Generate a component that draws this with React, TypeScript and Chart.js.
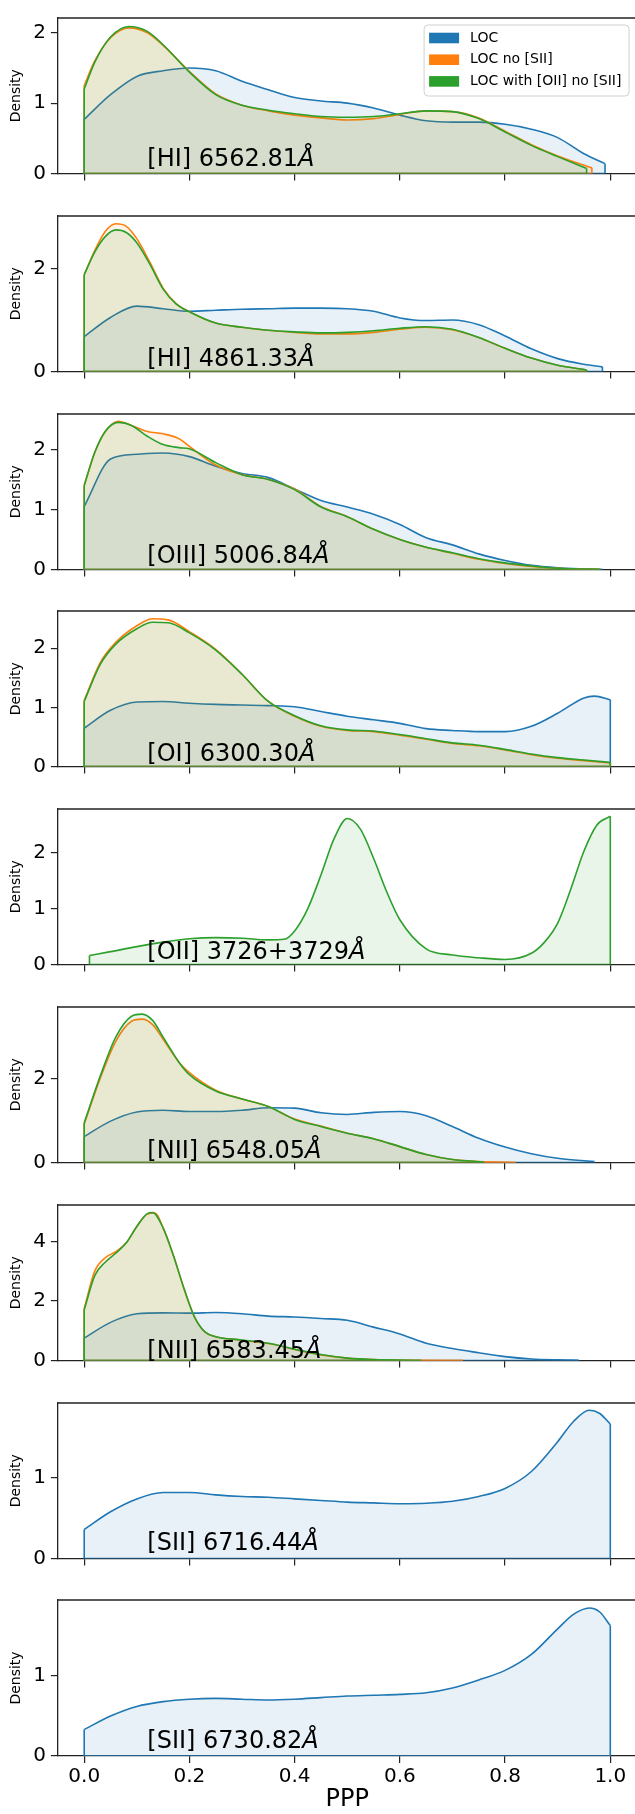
import React, { useEffect, useRef } from 'react';
import { Chart, registerables } from 'chart.js';

Chart.register(...registerables);

const FONT = "'DejaVu Sans', sans-serif";
Chart.defaults.font.family = FONT;

const SERIES_NAMES = ['LOC', 'LOC no [SII]', 'LOC with [OII] no [SII]'];
const SERIES_COLORS = ['#1f77b4', '#ff7f0e', '#2ca02c'];
const SERIES_FILLS = ['rgba(31,119,180,0.1)', 'rgba(255,127,14,0.1)', 'rgba(44,160,44,0.1)'];
const LINE_LABELS = [
  '[HI] 6562.81',
  '[HI] 4861.33',
  '[OIII] 5006.84',
  '[OI] 6300.30',
  '[OII] 3726+3729',
  '[NII] 6548.05',
  '[NII] 6583.45',
  '[SII] 6716.44',
  '[SII] 6730.82',
];
const ANGSTROM = 'Å';
const X_TITLE = 'PPP';
const Y_TITLE = 'Density';
const X_MIN = -0.05;
const X_MAX = 1.05;
const X_TICKS = [0, 0.2, 0.4, 0.6, 0.8, 1.0];
const Y_MAX = [2.21, 3.02, 2.59, 2.63, 2.78, 3.72, 5.22, 1.93, 1.95];
const Y_TICKS = [[0, 1, 2], [0, 2], [0, 1, 2], [0, 1, 2], [0, 1, 2], [0, 2], [0, 2, 4], [0, 1], [0, 1]];
const ANNOT_X = 0.12;
const ANNOT_Y = 0.1;

const GRID_20 = [0, 0.05, 0.1, 0.15, 0.2, 0.25, 0.3, 0.35, 0.4, 0.45, 0.5, 0.55, 0.6, 0.65, 0.7, 0.75, 0.8, 0.85, 0.9, 0.95];

// Panel 1: [HI] 6562.81
const H6563_LOC_X = [...GRID_20, 0.99];
const H6563_LOC_Y = [0.77, 1.12, 1.38, 1.46, 1.5, 1.46, 1.31, 1.19, 1.08, 1.03, 1.0, 0.93, 0.83, 0.75, 0.73, 0.73, 0.7, 0.63, 0.51, 0.28, 0.14];
const H6563_NOS_X = [0, 0.02, 0.05, 0.085, 0.12, 0.15, 0.2, 0.25, 0.3, 0.35, 0.4, 0.45, 0.5, 0.55, 0.6, 0.65, 0.7, 0.75, 0.8, 0.85, 0.9, 0.965];
const H6563_NOS_Y = [1.25, 1.6, 1.93, 2.07, 2.0, 1.82, 1.45, 1.13, 0.97, 0.89, 0.83, 0.79, 0.76, 0.78, 0.84, 0.89, 0.88, 0.79, 0.6, 0.41, 0.25, 0.08];
const H6563_WO_X = [0, 0.02, 0.05, 0.085, 0.12, 0.15, 0.2, 0.25, 0.3, 0.35, 0.4, 0.45, 0.5, 0.55, 0.6, 0.65, 0.7, 0.75, 0.8, 0.85, 0.9, 0.955];
const H6563_WO_Y = [1.2, 1.58, 1.94, 2.09, 2.02, 1.83, 1.44, 1.12, 0.97, 0.9, 0.85, 0.81, 0.8, 0.81, 0.85, 0.89, 0.88, 0.78, 0.59, 0.4, 0.24, 0.07];

// Panel 2: [HI] 4861.33
const H4861_LOC_X = [...GRID_20, 0.985];
const H4861_LOC_Y = [0.68, 1.05, 1.27, 1.22, 1.17, 1.19, 1.21, 1.22, 1.23, 1.23, 1.22, 1.17, 1.04, 0.99, 1.0, 0.91, 0.69, 0.44, 0.25, 0.14, 0.09];
const H4861_NOS_X = [0, 0.02, 0.04, 0.06, 0.08, 0.1, 0.125, 0.15, 0.175, 0.2, 0.25, 0.3, 0.35, 0.4, 0.45, 0.5, 0.55, 0.6, 0.65, 0.7, 0.75, 0.8, 0.85, 0.9, 0.955];
const H4861_NOS_Y = [1.88, 2.35, 2.72, 2.87, 2.82, 2.58, 2.12, 1.62, 1.32, 1.16, 0.94, 0.86, 0.8, 0.76, 0.73, 0.73, 0.76, 0.82, 0.86, 0.81, 0.66, 0.45, 0.26, 0.12, 0.03];
const H4861_WO_X = [0, 0.02, 0.04, 0.06, 0.08, 0.1, 0.125, 0.15, 0.175, 0.2, 0.25, 0.3, 0.35, 0.4, 0.45, 0.5, 0.55, 0.6, 0.65, 0.7, 0.75, 0.8, 0.85, 0.9, 0.955];
const H4861_WO_Y = [1.88, 2.32, 2.62, 2.75, 2.7, 2.5, 2.08, 1.6, 1.31, 1.16, 0.94, 0.86, 0.8, 0.77, 0.75, 0.76, 0.79, 0.84, 0.87, 0.82, 0.66, 0.45, 0.26, 0.12, 0.03];

// Panel 3: [OIII] 5006.84
const O5007_LOC_X = [...GRID_20, 0.985];
const O5007_LOC_Y = [1.05, 1.84, 1.92, 1.94, 1.88, 1.72, 1.6, 1.53, 1.34, 1.15, 1.04, 0.92, 0.75, 0.53, 0.41, 0.26, 0.15, 0.07, 0.03, 0.01, 0.0];
const O5007_NOS_X = [0, 0.02, 0.04, 0.065, 0.09, 0.12, 0.15, 0.18, 0.2, 0.25, 0.3, 0.35, 0.4, 0.45, 0.5, 0.55, 0.6, 0.65, 0.7, 0.75, 0.8, 0.85, 0.9, 0.95, 0.98];
const O5007_NOS_Y = [1.4, 1.95, 2.3, 2.47, 2.4, 2.3, 2.26, 2.18, 2.05, 1.74, 1.58, 1.5, 1.34, 1.05, 0.88, 0.67, 0.5, 0.37, 0.27, 0.17, 0.1, 0.05, 0.02, 0.005, 0.0];
const O5007_WO_X = [0, 0.02, 0.04, 0.065, 0.09, 0.12, 0.15, 0.18, 0.2, 0.25, 0.3, 0.35, 0.4, 0.45, 0.5, 0.55, 0.6, 0.65, 0.7, 0.75, 0.8, 0.85, 0.9, 0.95, 0.98];
const O5007_WO_Y = [1.4, 1.95, 2.3, 2.45, 2.4, 2.22, 2.08, 2.03, 2.01, 1.78, 1.58, 1.5, 1.33, 1.04, 0.88, 0.67, 0.5, 0.37, 0.28, 0.18, 0.11, 0.06, 0.02, 0.005, 0.0];

// Panel 4: [OI] 6300.30
const O6300_LOC_X = [0, 0.05, 0.1, 0.15, 0.2, 0.25, 0.3, 0.35, 0.4, 0.45, 0.5, 0.55, 0.6, 0.65, 0.7, 0.75, 0.8, 0.85, 0.9, 0.95, 0.97, 1.0];
const O6300_LOC_Y = [0.65, 0.95, 1.09, 1.1, 1.07, 1.05, 1.04, 1.03, 1.01, 0.93, 0.85, 0.79, 0.73, 0.64, 0.61, 0.59, 0.59, 0.68, 0.9, 1.16, 1.19, 1.13];
const O6300_NOS_X = [0, 0.03, 0.06, 0.1, 0.13, 0.16, 0.2, 0.25, 0.3, 0.35, 0.4, 0.45, 0.5, 0.55, 0.6, 0.65, 0.7, 0.75, 0.8, 0.85, 0.9, 0.95, 1.0];
const O6300_NOS_Y = [1.12, 1.75, 2.1, 2.38, 2.5, 2.48, 2.28, 1.98, 1.56, 1.1, 0.85, 0.68, 0.61, 0.59, 0.53, 0.46, 0.39, 0.35, 0.28, 0.2, 0.14, 0.1, 0.06];
const O6300_WO_X = [0, 0.03, 0.06, 0.1, 0.13, 0.16, 0.2, 0.25, 0.3, 0.35, 0.4, 0.45, 0.5, 0.55, 0.6, 0.65, 0.7, 0.75, 0.8, 0.85, 0.9, 0.95, 1.0];
const O6300_WO_Y = [1.1, 1.72, 2.07, 2.33, 2.44, 2.43, 2.26, 1.97, 1.56, 1.1, 0.86, 0.69, 0.62, 0.6, 0.54, 0.47, 0.4, 0.36, 0.29, 0.21, 0.15, 0.11, 0.07];

// Panel 5: [OII] 3726+3729 (only LOC with [OII] no [SII])
const O3727_WO_X = [0.01, 0.05, 0.1, 0.15, 0.2, 0.25, 0.3, 0.35, 0.38, 0.4, 0.425, 0.45, 0.475, 0.5, 0.525, 0.55, 0.575, 0.6, 0.65, 0.7, 0.75, 0.8, 0.85, 0.875, 0.9, 0.925, 0.95, 0.975, 1.0];
const O3727_WO_Y = [0.16, 0.23, 0.32, 0.4, 0.46, 0.48, 0.47, 0.44, 0.45, 0.6, 1.0, 1.6, 2.25, 2.61, 2.42, 1.9, 1.3, 0.8, 0.28, 0.17, 0.12, 0.09, 0.2, 0.4, 0.74, 1.35, 2.03, 2.5, 2.65];

// Panel 6: [NII] 6548.05
const N6548_LOC_X = [...GRID_20, 0.97];
const N6548_LOC_Y = [0.62, 0.99, 1.21, 1.25, 1.22, 1.22, 1.25, 1.31, 1.3, 1.19, 1.15, 1.2, 1.22, 1.12, 0.86, 0.58, 0.37, 0.21, 0.1, 0.04, 0.02];
const N6548_NOS_X = [0, 0.03, 0.06, 0.09, 0.11, 0.13, 0.15, 0.18, 0.2, 0.25, 0.3, 0.35, 0.4, 0.45, 0.5, 0.55, 0.6, 0.65, 0.7, 0.75, 0.82];
const N6548_NOS_Y = [0.92, 2.0, 2.9, 3.38, 3.43, 3.3, 2.95, 2.4, 2.15, 1.73, 1.52, 1.34, 1.04, 0.87, 0.7, 0.57, 0.38, 0.19, 0.07, 0.02, 0.0];
const N6548_WO_X = [0, 0.03, 0.06, 0.09, 0.11, 0.13, 0.15, 0.18, 0.2, 0.25, 0.3, 0.35, 0.4, 0.45, 0.5, 0.55, 0.6, 0.65, 0.7, 0.76];
const N6548_WO_Y = [0.95, 2.05, 3.0, 3.5, 3.55, 3.4, 3.0, 2.4, 2.1, 1.71, 1.52, 1.34, 1.03, 0.86, 0.7, 0.57, 0.38, 0.19, 0.07, 0.01];

// Panel 7: [NII] 6583.45
const N6583_LOC_X = [0, 0.05, 0.1, 0.15, 0.2, 0.25, 0.3, 0.35, 0.4, 0.45, 0.5, 0.55, 0.6, 0.65, 0.7, 0.75, 0.8, 0.85, 0.9, 0.94];
const N6583_LOC_Y = [0.75, 1.28, 1.57, 1.6, 1.59, 1.61, 1.57, 1.49, 1.46, 1.41, 1.35, 1.12, 0.89, 0.58, 0.4, 0.26, 0.13, 0.05, 0.02, 0.01];
const N6583_NOS_X = [0, 0.02, 0.04, 0.06, 0.08, 0.1, 0.12, 0.135, 0.15, 0.17, 0.19, 0.21, 0.23, 0.25, 0.3, 0.35, 0.4, 0.45, 0.5, 0.55, 0.6, 0.72];
const N6583_NOS_Y = [1.75, 3.0, 3.45, 3.65, 3.95, 4.5, 4.92, 4.95, 4.45, 3.5, 2.4, 1.45, 0.95, 0.8, 0.68, 0.57, 0.37, 0.19, 0.08, 0.03, 0.01, 0.0];
const N6583_WO_X = [0, 0.02, 0.04, 0.06, 0.08, 0.1, 0.12, 0.13, 0.15, 0.17, 0.19, 0.21, 0.23, 0.25, 0.3, 0.35, 0.4, 0.45, 0.5, 0.55, 0.64];
const N6583_WO_Y = [1.7, 2.85, 3.3, 3.6, 3.95, 4.5, 4.93, 4.97, 4.45, 3.5, 2.4, 1.45, 0.95, 0.8, 0.69, 0.58, 0.38, 0.2, 0.08, 0.03, 0.0];

// Panel 8: [SII] 6716.44 (only LOC)
const S6716_LOC_X = [0, 0.05, 0.1, 0.15, 0.2, 0.25, 0.3, 0.35, 0.4, 0.45, 0.5, 0.55, 0.6, 0.65, 0.7, 0.75, 0.8, 0.85, 0.9, 0.93, 0.96, 0.98, 1.0];
const S6716_LOC_Y = [0.36, 0.58, 0.74, 0.82, 0.82, 0.79, 0.77, 0.76, 0.74, 0.72, 0.7, 0.69, 0.68, 0.685, 0.71, 0.77, 0.87, 1.08, 1.45, 1.7, 1.84, 1.8, 1.67];

// Panel 9: [SII] 6730.82 (only LOC)
const S6731_LOC_X = [0, 0.05, 0.1, 0.15, 0.2, 0.25, 0.3, 0.35, 0.4, 0.45, 0.5, 0.55, 0.6, 0.65, 0.7, 0.75, 0.8, 0.85, 0.9, 0.93, 0.96, 0.98, 1.0];
const S6731_LOC_Y = [0.33, 0.5, 0.62, 0.68, 0.71, 0.72, 0.71, 0.7, 0.71, 0.73, 0.75, 0.76, 0.77, 0.79, 0.85, 0.95, 1.07, 1.27, 1.59, 1.77, 1.85, 1.8, 1.63];

type Series = { x: number[]; y: number[] } | null;
// per panel: [LOC, LOC no [SII], LOC with [OII] no [SII]]
const PANEL_SERIES: Series[][] = [
  [{ x: H6563_LOC_X, y: H6563_LOC_Y }, { x: H6563_NOS_X, y: H6563_NOS_Y }, { x: H6563_WO_X, y: H6563_WO_Y }],
  [{ x: H4861_LOC_X, y: H4861_LOC_Y }, { x: H4861_NOS_X, y: H4861_NOS_Y }, { x: H4861_WO_X, y: H4861_WO_Y }],
  [{ x: O5007_LOC_X, y: O5007_LOC_Y }, { x: O5007_NOS_X, y: O5007_NOS_Y }, { x: O5007_WO_X, y: O5007_WO_Y }],
  [{ x: O6300_LOC_X, y: O6300_LOC_Y }, { x: O6300_NOS_X, y: O6300_NOS_Y }, { x: O6300_WO_X, y: O6300_WO_Y }],
  [null, null, { x: O3727_WO_X, y: O3727_WO_Y }],
  [{ x: N6548_LOC_X, y: N6548_LOC_Y }, { x: N6548_NOS_X, y: N6548_NOS_Y }, { x: N6548_WO_X, y: N6548_WO_Y }],
  [{ x: N6583_LOC_X, y: N6583_LOC_Y }, { x: N6583_NOS_X, y: N6583_NOS_Y }, { x: N6583_WO_X, y: N6583_WO_Y }],
  [{ x: S6716_LOC_X, y: S6716_LOC_Y }, null, null],
  [{ x: S6731_LOC_X, y: S6731_LOC_Y }, null, null],
];

// layout (page pixels)
const PAGE_W = 635;
const PAGE_H = 1814;
const CANVAS_W = 650;
const FIRST_TOP = 13;
const PITCH = 197.8;
const PLOT_H = 160.5;
const PAD_TOP = 12;
const AXIS_LEFT = 57.9;
const PAD_RIGHT = 13.4;
const SPINE = '#222222';

function buildDatasets(series: Series[]) {
  const ds: any[] = [];
  series.forEach((s, k) => {
    if (!s) return;
    const pts = s.x.map((x, i) => ({ x, y: s.y[i] }));
    const n = s.x.length - 1;
    ds.push({
      data: pts,
      borderColor: SERIES_COLORS[k],
      backgroundColor: SERIES_FILLS[k],
      fill: 'origin',
      cubicInterpolationMode: 'monotone',
      pointRadius: 0,
      borderWidth: 1.6,
      order: 10 - 2 * k,
    });
    ds.push({
      data: [
        { x: s.x[0], y: s.y[0] },
        { x: s.x[0], y: 0 },
        { x: s.x[n], y: 0 },
        { x: s.x[n], y: s.y[n] },
      ],
      borderColor: SERIES_COLORS[k],
      backgroundColor: 'rgba(0,0,0,0)',
      fill: false,
      tension: 0,
      pointRadius: 0,
      borderWidth: 1.6,
      order: 9 - 2 * k,
    });
  });
  return ds;
}

function makeOverlay(idx: number) {
  return {
    id: 'overlay' + idx,
    afterDatasetsDraw(chart: any) {
      const { ctx, chartArea, scales } = chart;
      ctx.save();
      ctx.strokeStyle = SPINE;
      ctx.lineWidth = 1.3;
      ctx.beginPath();
      ctx.moveTo(chartArea.left, chartArea.top);
      ctx.lineTo(chartArea.right, chartArea.top);
      ctx.stroke();

      const px = scales.x.getPixelForValue(ANNOT_X);
      const py = scales.y.getPixelForValue(ANNOT_Y);
      ctx.fillStyle = '#000';
      ctx.textAlign = 'left';
      ctx.textBaseline = 'alphabetic';
      ctx.font = `24px ${FONT}`;
      ctx.fillText(LINE_LABELS[idx], px, py);
      const w = ctx.measureText(LINE_LABELS[idx]).width;
      ctx.font = `italic 24px ${FONT}`;
      ctx.fillText(ANGSTROM, px + w, py);

      if (idx === 0) {
        const right = chartArea.right - 7.5;
        const top = chartArea.top + 7;
        const bw = 205;
        const bh = 71;
        const left = right - bw;
        ctx.beginPath();
        const r = 4;
        ctx.moveTo(left + r, top);
        ctx.lineTo(left + bw - r, top);
        ctx.quadraticCurveTo(left + bw, top, left + bw, top + r);
        ctx.lineTo(left + bw, top + bh - r);
        ctx.quadraticCurveTo(left + bw, top + bh, left + bw - r, top + bh);
        ctx.lineTo(left + r, top + bh);
        ctx.quadraticCurveTo(left, top + bh, left, top + bh - r);
        ctx.lineTo(left, top + r);
        ctx.quadraticCurveTo(left, top, left + r, top);
        ctx.closePath();
        ctx.fillStyle = 'rgba(255,255,255,0.8)';
        ctx.fill();
        ctx.strokeStyle = '#d0d0d0';
        ctx.lineWidth = 1;
        ctx.stroke();
        ctx.font = `14px ${FONT}`;
        ctx.textBaseline = 'middle';
        SERIES_NAMES.forEach((name, k) => {
          const cy = top + 13 + k * 21.7;
          ctx.fillStyle = SERIES_COLORS[k];
          ctx.fillRect(left + 5, cy - 5.3, 30, 10.6);
          ctx.fillStyle = '#000';
          ctx.fillText(name, left + 46, cy);
        });
      }
      ctx.restore();
    },
  };
}

function Panel({ idx }: { idx: number }) {
  const ref = useRef<HTMLCanvasElement | null>(null);
  const isLast = idx === PANEL_SERIES.length - 1;
  const plotTop = Math.round(FIRST_TOP + PITCH * idx);
  const canvasTop = plotTop - PAD_TOP;
  const canvasH = isLast ? PAGE_H - canvasTop : 198;
  const plotH = isLast ? 161 : PLOT_H;
  const xAxisH = canvasH - PAD_TOP - plotH;

  useEffect(() => {
    if (!ref.current) return;
    const chart = new Chart(ref.current, {
      type: 'line',
      data: { datasets: buildDatasets(PANEL_SERIES[idx]) },
      options: {
        responsive: false,
        animation: false,
        devicePixelRatio: 1,
        events: [],
        layout: { padding: { top: PAD_TOP, right: PAD_RIGHT, bottom: 0, left: 0 } },
        plugins: { legend: { display: false }, tooltip: { enabled: false } },
        scales: {
          x: {
            type: 'linear',
            min: X_MIN,
            max: X_MAX,
            afterBuildTicks: (s: any) => {
              s.ticks = X_TICKS.map((v) => ({ value: v }));
            },
            afterFit: (s: any) => {
              s.height = xAxisH;
            },
            ticks: {
              display: isLast,
              autoSkip: false,
              maxRotation: 0,
              padding: 2,
              color: '#000',
              font: { size: 20, family: FONT },
              callback: (v: any) => Number(v).toFixed(1),
            },
            grid: { display: true, drawOnChartArea: false, drawTicks: true, tickLength: 7, color: SPINE, lineWidth: 1.2 },
            border: { display: true, color: SPINE, width: 1.3 },
            title: { display: isLast, text: X_TITLE, color: '#000', font: { size: 24, family: FONT }, padding: 0 },
          },
          y: {
            type: 'linear',
            min: 0,
            max: Y_MAX[idx],
            afterBuildTicks: (s: any) => {
              s.ticks = Y_TICKS[idx].map((v) => ({ value: v }));
            },
            afterFit: (s: any) => {
              s.width = AXIS_LEFT;
            },
            ticks: {
              autoSkip: false,
              padding: 5,
              color: '#000',
              font: { size: 20, family: FONT },
              callback: (v: any) => String(v),
            },
            grid: { display: true, drawOnChartArea: false, drawTicks: true, tickLength: 7, color: SPINE, lineWidth: 1.2 },
            border: { display: true, color: SPINE, width: 1.3 },
            title: { display: true, text: Y_TITLE, color: '#000', font: { size: 14, family: FONT }, padding: { top: 7.6, bottom: 0 } },
          },
        },
      },
      plugins: [makeOverlay(idx)],
    } as any);
    return () => chart.destroy();
  }, [idx]);

  return (
    <canvas
      ref={ref}
      width={CANVAS_W}
      height={canvasH}
      style={{ position: 'absolute', left: 0, top: canvasTop, width: CANVAS_W, height: canvasH, display: 'block' }}
    />
  );
}

export default function App() {
  return (
    <div
      style={{
        position: 'absolute',
        left: 0,
        top: 0,
        width: PAGE_W,
        height: PAGE_H,
        overflow: 'hidden',
        background: '#ffffff',
      }}
    >
      {PANEL_SERIES.map((_, i) => (
        <Panel key={i} idx={i} />
      ))}
    </div>
  );
}
